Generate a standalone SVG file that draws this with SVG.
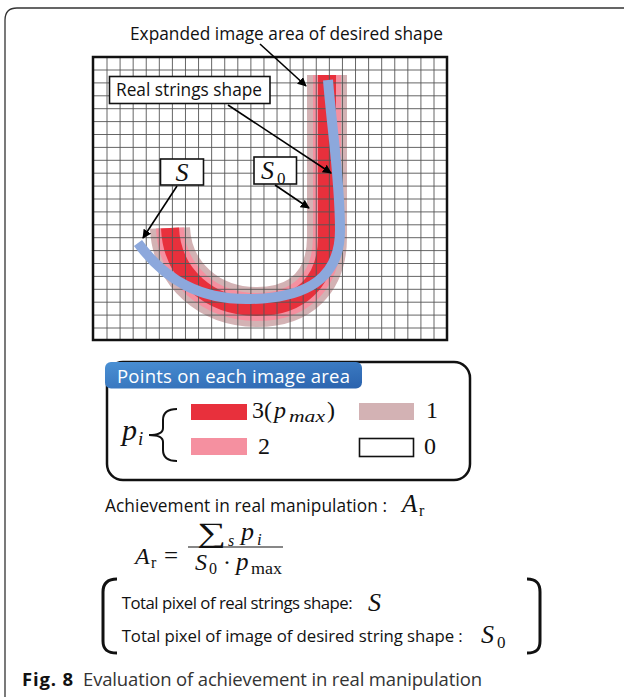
<svg xmlns="http://www.w3.org/2000/svg" width="624" height="697" viewBox="0 0 624 697">
<defs>
<marker id="ah" viewBox="0 0 10 10" refX="9" refY="5" markerWidth="9" markerHeight="9" markerUnits="userSpaceOnUse" orient="auto">
<path d="M0,0 L10,5 L0,10 z" fill="#000"/>
</marker>
<linearGradient id="tab" x1="0" y1="0" x2="1" y2="1">
<stop offset="0" stop-color="#4a90d4"/>
<stop offset="1" stop-color="#2a62ad"/>
</linearGradient>
</defs>
<style>
.sans{font-family:"Open Sans","Noto Sans","DejaVu Sans",sans-serif;fill:#111}
.math{font-family:"Liberation Serif","DejaVu Serif",serif;fill:#111}
.it{font-style:italic}
.box{fill:#fff;stroke:#111;stroke-width:1.6}
.conn{stroke:#000;stroke-width:1.6;fill:none;marker-end:url(#ah)}
.grid{stroke:#555;stroke-width:0.9;fill:none}
</style>
<rect width="624" height="697" fill="#fff"/>
<path d="M5,697 L5,20 Q5,8 17,8 L624,8" fill="none" stroke="#333" stroke-width="1.3"/>

<g id="grid-area">
<rect x="93" y="57" width="354" height="283" fill="#fff"/>
<g id="desired-shape" fill="none" stroke-linecap="butt">
<path d="M327,75 L327,237 C327,282 300,307 257,307 C210,307 172,275 170,228" stroke="#d3b2b4" stroke-width="40"/>
<path d="M327,75 L327,237 C327,282 300,307 257,307 C210,307 172,275 170,228" stroke="#f590a0" stroke-width="28"/>
<path d="M327,75 L327,237 C327,282 300,307 257,307 C210,307 172,275 170,228" stroke="#e8303c" stroke-width="18"/>
</g>
<path class="grid" d="M107,57V340M120.08,57V340M133.16,57V340M146.24,57V340M159.32,57V340M172.4,57V340M185.48,57V340M198.56,57V340M211.64,57V340M224.72,57V340M237.8,57V340M250.88,57V340M263.96,57V340M277.04,57V340M290.12,57V340M303.2,57V340M316.28,57V340M329.36,57V340M342.44,57V340M355.52,57V340M368.6,57V340M381.68,57V340M394.76,57V340M407.84,57V340M420.92,57V340M434,57V340
M93,70H447M93,82.9H447M93,95.8H447M93,108.7H447M93,121.6H447M93,134.5H447M93,147.4H447M93,160.3H447M93,173.2H447M93,186.1H447M93,199H447M93,211.9H447M93,224.8H447M93,237.7H447M93,250.6H447M93,263.5H447M93,276.4H447M93,289.3H447M93,302.2H447M93,315.1H447M93,328H447"/>
<path id="real-string" d="M328,80 C332,130 340,180 340,230 C340,276 310,298 250,299 C200,300 165,280 138,243" fill="none" stroke="#8ca8dc" stroke-width="10" stroke-linecap="butt"/>
<rect x="93" y="57" width="354" height="283" fill="none" stroke="#111" stroke-width="2.5"/>
</g>

<g id="connectors">
<line class="conn" x1="260" y1="44" x2="306" y2="86"/>
<line class="conn" x1="228" y1="105" x2="331" y2="173"/>
<line class="conn" x1="177" y1="186" x2="143" y2="238"/>
<line class="conn" x1="275" y1="185" x2="309" y2="208"/>
</g>

<g id="label-expanded">
<text class="sans" x="130" y="40" font-size="17.3" textLength="313">Expanded image area of desired shape</text>
</g>
<g id="label-real">
<rect class="box" x="109.5" y="76.5" width="160.5" height="27"/>
<text class="sans" x="116" y="96" font-size="17.3" textLength="146">Real strings shape</text>
</g>
<g id="label-S">
<rect class="box" x="160.5" y="159" width="43" height="26"/>
<text class="math it" x="182" y="181" font-size="26" text-anchor="middle">S</text>
</g>
<g id="label-S0">
<rect class="box" x="254" y="157" width="42.5" height="27"/>
<text class="math it" x="261" y="179" font-size="26">S</text>
<text class="math" x="277" y="184" font-size="17">0</text>
</g>

<g id="legend">
<rect x="107" y="362" width="363" height="118" rx="16" fill="#fff" stroke="#111" stroke-width="2.5"/>
<rect x="105" y="362" width="257" height="26.5" rx="6" fill="url(#tab)"/>
<text class="sans" x="117" y="383" font-size="18.5" textLength="233" style="fill:#fff">Points on each image area</text>
<text class="math it" x="122" y="440" font-size="30">p</text>
<text class="math it" x="138" y="445" font-size="19">i</text>
<path d="M177,409 C167,409 163,413 163,420 L163,428 C163,433 159,435 149,435 C159,435 163,437 163,442 L163,450 C163,457 167,461 177,461" fill="none" stroke="#111" stroke-width="2"/>
<rect x="191" y="404" width="56" height="16" fill="#e8303c"/>
<text class="math" x="252" y="418" font-size="24">3(</text>
<text class="math it" x="274" y="418" font-size="24">p</text>
<text class="math it" x="289" y="422" font-size="17" textLength="36" lengthAdjust="spacingAndGlyphs">max</text>
<text class="math" x="327" y="418" font-size="24">)</text>
<rect x="191" y="438" width="56" height="17" fill="#f590a0"/>
<text class="math" x="258" y="454" font-size="24">2</text>
<rect x="359" y="403" width="55" height="17" fill="#d3b2b4"/>
<text class="math" x="426" y="418" font-size="24">1</text>
<rect x="359.5" y="438.5" width="54" height="18" fill="#fff" stroke="#111" stroke-width="1.6"/>
<text class="math" x="424" y="454" font-size="24">0</text>
</g>

<g id="formula">
<text class="sans" x="105" y="512" font-size="17.3" textLength="282">Achievement in real manipulation :</text>
<text class="math it" x="402" y="512" font-size="25">A</text>
<text class="math" x="419" y="516" font-size="16">r</text>
<text class="math it" x="135" y="564" font-size="24">A</text>
<text class="math" x="151" y="568" font-size="16">r</text>
<text class="math" x="164" y="564" font-size="25">=</text>
<text class="math" x="197" y="542" font-size="28" textLength="29" lengthAdjust="spacingAndGlyphs">∑</text>
<text class="math it" x="228" y="546" font-size="16">s</text>
<text class="math it" x="241" y="540" font-size="26">p</text>
<text class="math it" x="257" y="545" font-size="17">i</text>
<line x1="188" y1="547" x2="283" y2="547" stroke="#111" stroke-width="1.2"/>
<text class="math it" x="195" y="570" font-size="24">S</text>
<text class="math" x="209" y="574" font-size="16">0</text>
<text class="math" x="223" y="570" font-size="24">·</text>
<text class="math it" x="236" y="570" font-size="25">p</text>
<text class="math" x="251" y="574" font-size="16" textLength="31" lengthAdjust="spacingAndGlyphs">max</text>
</g>

<g id="definitions">
<path d="M117,579 C107,579 103,584 103,592 L103,641 C103,649 107,653 117,653" fill="none" stroke="#111" stroke-width="3"/>
<path d="M527,579 C537,579 540,584 540,592 L540,641 C540,649 537,653 527,653" fill="none" stroke="#111" stroke-width="3"/>
<text class="sans" x="121.7" y="609" font-size="16.8" textLength="231">Total pixel of real strings shape:</text>
<text class="math it" x="368" y="611" font-size="26">S</text>
<text class="sans" x="121.7" y="642" font-size="16.8" textLength="341">Total pixel of image of desired string shape :</text>
<text class="math it" x="481" y="643" font-size="26">S</text>
<text class="math" x="497" y="648" font-size="17">0</text>
</g>

<g id="caption">
<text class="sans" x="22" y="686" font-size="18.5" font-weight="bold" textLength="51">Fig. 8</text>
<text class="sans" x="83" y="686" font-size="18.5" textLength="399" style="fill:#333">Evaluation of achievement in real manipulation</text>
</g>
</svg>
